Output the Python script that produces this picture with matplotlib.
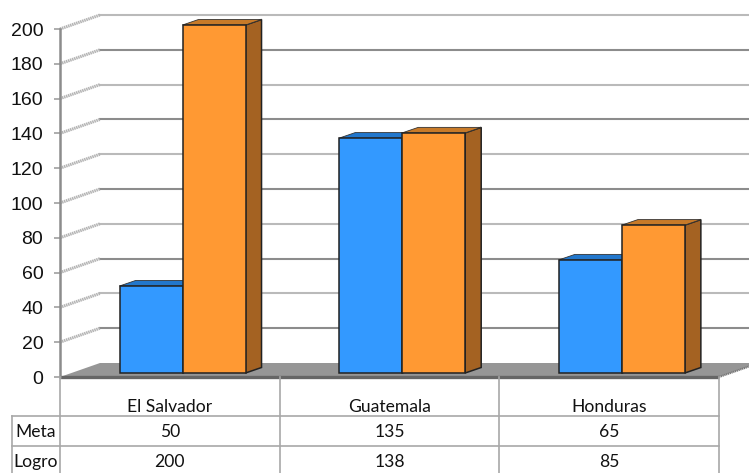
import matplotlib
matplotlib.use("Agg")
import matplotlib.pyplot as plt
from matplotlib.patches import Polygon

categories = ["El Salvador", "Guatemala", "Honduras"]
meta = [50, 135, 65]
logro = [200, 138, 85]
series_names = ["Meta", "Logro"]
y_ticks = list(range(0, 201, 20))

W, H = 749, 473
fig = plt.figure(figsize=(W / 100, H / 100), dpi=100, facecolor="white")
ax = fig.add_axes([60 / W, 1 - 377 / H, 659 / W, 348 / H])
ax.set_xlim(0, 3)
ax.set_ylim(0, 200)
ax.patch.set_alpha(0)
for s in ax.spines.values():
    s.set_visible(False)

WALL_DX, WALL_DY = 40 / 219.67, 14 / 1.74
BAR_DX, BAR_DY = 16 / 219.67, 5.5 / 1.74
BASE = 2.3
BAR_W = 63 / 219.67
GROUP_SHIFT = 12.7 / 219.67

# floor
ax.add_patch(Polygon([(0, 0), (WALL_DX, WALL_DY), (3 + WALL_DX, WALL_DY), (3, 0)],
                     fc="#969696", ec="none", zorder=1, clip_on=False))
ax.plot([0, 3], [0, 0], color="#666666", lw=2.4, zorder=2, clip_on=False, solid_capstyle="butt")
# wall gridlines
for i, t in enumerate(y_ticks[1:]):
    col = "#bababa" if i % 2 else "#8c8c8c"
    ax.plot([WALL_DX, 3.3], [t + WALL_DY] * 2, color=col, lw=1.5, zorder=1, clip_on=False)
    ax.plot([0, WALL_DX], [t, t + WALL_DY], color="#b4b4b4", lw=2.2, ls=(0, (0.5, 0.2)), zorder=1, clip_on=False)
ax.plot([3, 3 + WALL_DX], [0, WALL_DY], color="#777777", lw=1.5, ls=(0, (0.6, 0.3)), zorder=1, clip_on=False)
ax.plot([0, 0], [0, 200], color="#8c8c8c", lw=1.8, zorder=2, clip_on=False)

def bar(x0, v, front, top, side, z):
    x1 = x0 + BAR_W
    y0, y1 = BASE, BASE + v
    ec = "#222222"
    ax.add_patch(Polygon([(x1, y0), (x1 + BAR_DX, y0 + BAR_DY), (x1 + BAR_DX, y1 + BAR_DY), (x1, y1)],
                         fc=side, ec=ec, lw=1.1, zorder=z, clip_on=False))
    ax.add_patch(Polygon([(x0, y1), (x0 + BAR_DX, y1 + BAR_DY), (x1 + BAR_DX, y1 + BAR_DY), (x1, y1)],
                         fc=top, ec="#333333", lw=0.6, zorder=z, clip_on=False))
    ax.add_patch(Polygon([(x0, y0), (x1, y0), (x1, y1), (x0, y1)],
                         fc=front, ec=ec, lw=1.1, zorder=z + 0.1, clip_on=False))

for i in range(len(categories)):
    c = i + 0.5 + GROUP_SHIFT
    bar(c - BAR_W, meta[i], "#3399ff", "#2277cc", "#1f66aa", 3 + i)
    bar(c, logro[i], "#ff9933", "#c87a28", "#a46222", 3.5 + i)

ax.set_xticks([])
ax.set_yticks(y_ticks)
ax.tick_params(axis="y", length=4, width=1.2, color="#a0a0a0", pad=8, labelsize=14, labelcolor="#111111")
for l in ax.get_yticklabels():
    l.set_fontfamily("Liberation Sans")

# data table
grid = "#a8a8a8"
tfont = dict(family="Lato", fontsize=12.6, color="#111111", ha="center", va="center", clip_on=False)
row_lines = [-22.4, -39.7]
row_text = [-31.6, -48.8]
LEFT = -48 / 219.67
BOTTOM = -96 / 1.74 * 1.0
for y in row_lines:
    ax.plot([LEFT, 3], [y, y], color=grid, lw=1.2, clip_on=False)
for x in range(4):
    ax.plot([x, x], [0, BOTTOM], color=grid, lw=1.2, clip_on=False)
ax.plot([LEFT, LEFT], [row_lines[0], BOTTOM], color=grid, lw=1.2, clip_on=False)
for i, name in enumerate(categories):
    ax.text(i + 0.5, -17.0, name, **tfont)
    ax.text(i + 0.5, row_text[0], str(meta[i]), **tfont)
    ax.text(i + 0.5, row_text[1], str(logro[i]), **tfont)
for j, name in enumerate(series_names):
    ax.text(LEFT / 2, row_text[j], name, **tfont)

fig.savefig("out.png", dpi=100)
